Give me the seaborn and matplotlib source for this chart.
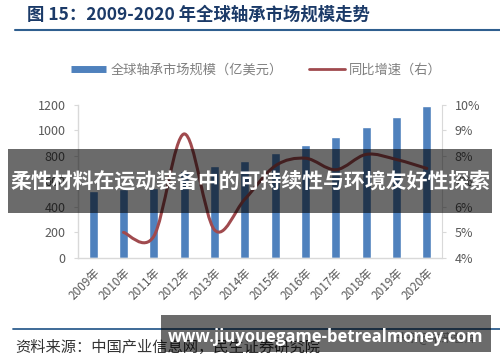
import numpy as np
import matplotlib
matplotlib.use("Agg")
import matplotlib.pyplot as plt
import seaborn as sns
from matplotlib.path import Path
from matplotlib.patches import PathPatch, Rectangle
from matplotlib.lines import Line2D
from matplotlib.ticker import FuncFormatter, FixedLocator

# data
years = ['2009年', '2010年', '2011年', '2012年', '2013年', '2014年',
         '2015年', '2016年', '2017年', '2018年', '2019年', '2020年']
market_size = [525, 540, 550, 680, 716, 762, 822, 886, 949, 1025, 1106, 1188]  # 亿美元
growth = [5.0, 4.85, 8.85, 5.1, 6.3, 7.6, 7.9, 7.45, 8.05, 7.85, 7.5]  # %, 2010-2020

bar_color = '#4F81BD'
line_color = '#A04A4E'
tick_color = '#595959'
axis_gray = '#D9D9D9'

sns.set_style('white')
plt.rcParams['font.family'] = ['Noto Sans CJK SC', 'DejaVu Sans']

fig = plt.figure(figsize=(5, 3.62), dpi=100)
ax = fig.add_axes([0.156, 0.2873, 0.728, 0.424])

sns.barplot(x=years, y=market_size, ax=ax, color=bar_color, width=0.3, saturation=1)
ax.set_xlim(-0.5, len(years) - 0.5)
ax.set_ylim(0, 1200)
ax.set_yticks(range(0, 1201, 200))
ax.set_xlabel('')
ax.set_ylabel('')

for s in ['top', 'right']:
    ax.spines[s].set_visible(False)
for s in ['left', 'bottom']:
    ax.spines[s].set_color(axis_gray)
    ax.spines[s].set_linewidth(1)

ax.tick_params(axis='y', length=3, color=axis_gray, labelcolor=tick_color, labelsize=9, pad=6)
ax.tick_params(axis='x', which='major', length=0, labelcolor=tick_color, labelsize=8.5, pad=6)
ax.xaxis.set_minor_locator(FixedLocator(np.arange(-0.5, len(years), 1)))
ax.tick_params(axis='x', which='minor', length=4, color=axis_gray)
for lab in ax.get_xticklabels():
    lab.set_rotation(45)
    lab.set_ha('right')
    lab.set_va('top')
    lab.set_rotation_mode('anchor')

# growth rate on the right axis, smoothed like the original (bezier through points)
ax2 = ax.twinx()
ax2.set_ylim(4, 10)
ax2.set_yticks(range(4, 11))
ax2.yaxis.set_major_formatter(FuncFormatter(lambda v, p: f'{v:.0f}%'))
for s in ['top', 'left', 'bottom']:
    ax2.spines[s].set_visible(False)
ax2.spines['right'].set_color(axis_gray)
ax2.tick_params(axis='y', length=3, color=axis_gray, labelcolor=tick_color, labelsize=9, pad=6)

pts = np.column_stack([np.arange(1, len(years)), growth])
verts = [pts[0]]
codes = [Path.MOVETO]
n = len(pts)
for i in range(n - 1):
    p0 = pts[i - 1] if i > 0 else pts[i]
    p1, p2 = pts[i], pts[i + 1]
    p3 = pts[i + 2] if i + 2 < n else pts[i + 1]
    c1 = p1 + (p2 - p0) / 6
    c2 = p2 - (p3 - p1) / 6
    verts += [c1, c2, p2]
    codes += [Path.CURVE4] * 3
ax2.add_patch(PathPatch(Path(verts, codes), facecolor='none', edgecolor=line_color,
                        lw=2.2, capstyle='round'))

# legend
handles = [Line2D([], [], color=bar_color, lw=5, solid_capstyle='butt'),
           Line2D([], [], color=line_color, lw=2)]
leg = fig.legend(handles, ['全球轴承市场规模（亿美元）', '同比增速（右）'],
                 loc='center', bbox_to_anchor=(0.512, 0.807), ncol=2, frameon=False,
                 fontsize=9.5, handlelength=2.7, columnspacing=2.0, handletextpad=0.3)
for t in leg.get_texts():
    t.set_color('#7F7F7F')

# title and frame lines
fig.text(0.054, 0.9586, '图 15：2009-2020 年全球轴承市场规模走势', fontsize=12.5,
         fontweight='bold', color='#1B3A68', va='center', ha='left')
fig.add_artist(Line2D([0.03, 1.0], [0.917, 0.917], color='#2F5F8F', lw=1.5))
fig.add_artist(Line2D([0.026, 1.0], [0.0912, 0.0912], color='#2F5F8F', lw=1.3))
fig.text(0.03, 0.0414, '资料来源：中国产业信息网，民生证券研究院', fontsize=11,
         color='#333333', va='center', ha='left')
fig.text(0.79, 0.066, '头条@未来智库', fontsize=8.5, color='#999999', va='center', ha='left')

# overlay bands
fig.add_artist(Rectangle((8 / 500, 1 - 213 / 362), 484 / 500, 64 / 362,
                         transform=fig.transFigure, facecolor='black', alpha=0.58,
                         edgecolor='none', zorder=10))
fig.text(0.5, 0.5, '柔性材料在运动装备中的可持续性与环境友好性探索', fontsize=15,
         fontweight='bold', color='white', ha='center', va='center', zorder=11)
fig.add_artist(Rectangle((161 / 500, 1 - 352 / 362), 330 / 500, 37 / 362,
                         transform=fig.transFigure, facecolor='black', alpha=0.58,
                         edgecolor='none', zorder=10))
fig.text(0.651, 0.069, 'www.jiuyouegame-betrealmoney.com', fontsize=12,
         fontweight='bold', color='white', ha='center', va='center', zorder=11,
         family=['Open Sans', 'DejaVu Sans'])

fig.savefig('out.png', dpi=100)
